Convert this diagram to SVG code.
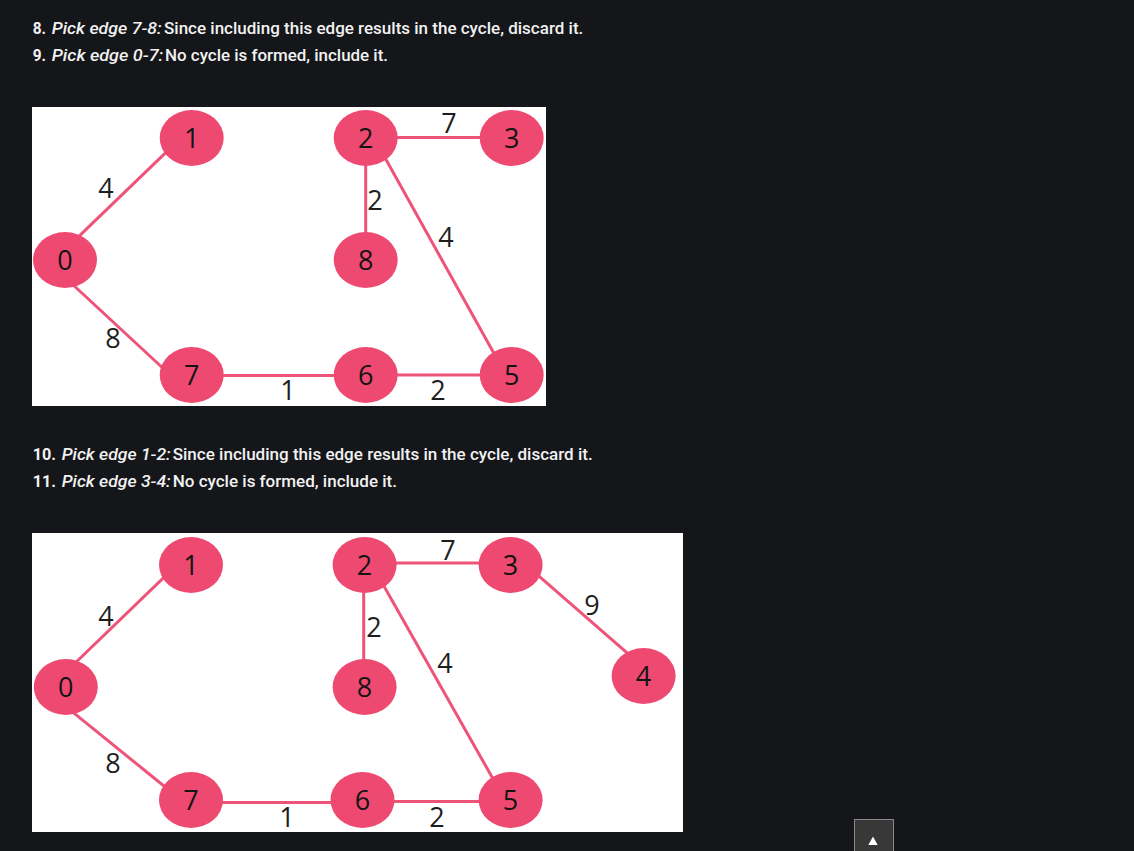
<svg xmlns="http://www.w3.org/2000/svg" width="1134" height="851" viewBox="0 0 1134 851">
<style>
.t{font-family:Roboto,"Liberation Sans",sans-serif;font-size:16px;fill:#f2f2f2;font-weight:500}
.b{font-weight:700}
.i{font-style:italic}
.e{stroke:#ee5479;stroke-width:3;fill:none}
.n{fill:#ee4a71}
.nl{font-family:"Open Sans","Liberation Sans",sans-serif;font-size:27px;fill:#141414;text-anchor:middle}
.el{font-family:"Open Sans","Liberation Sans",sans-serif;font-size:27px;fill:#1e1e1e;text-anchor:middle}
</style>
<rect width="1134" height="851" fill="#15161a"/>
<g id="text-top">
<text class="t b" x="32.7" y="34" textLength="13.3" lengthAdjust="spacingAndGlyphs">8.</text>
<text class="t i" x="51.7" y="34" textLength="110" lengthAdjust="spacingAndGlyphs">Pick edge 7-8:</text>
<text class="t" x="164" y="34" textLength="419.3" lengthAdjust="spacingAndGlyphs">Since including this edge results in the cycle, discard it.</text>
<text class="t b" x="32.7" y="61" textLength="13.3" lengthAdjust="spacingAndGlyphs">9.</text>
<text class="t i" x="51.7" y="61" textLength="111.6" lengthAdjust="spacingAndGlyphs">Pick edge 0-7:</text>
<text class="t" x="165" y="61" textLength="223" lengthAdjust="spacingAndGlyphs">No cycle is formed, include it.</text>
</g>
<g id="diagram1">
<rect x="32" y="107" width="514" height="299" fill="#ffffff"/>
<g id="d1-edges">
<line class="e" x1="70" y1="244.8" x2="180" y2="138.9"/>
<line class="e" x1="70" y1="282" x2="180" y2="384"/>
<line class="e" x1="365.7" y1="137.5" x2="511.7" y2="137.5"/>
<line class="e" x1="365.7" y1="138" x2="365.7" y2="260"/>
<line class="e" x1="374" y1="138" x2="506" y2="375"/>
<line class="e" x1="191.7" y1="375.5" x2="365.7" y2="375.5"/>
<line class="e" x1="365.7" y1="375" x2="511.7" y2="375"/>
</g>
<g id="d1-n0"><ellipse class="n" cx="65" cy="260" rx="32" ry="28"/><text class="nl" x="65" y="270">0</text></g>
<g id="d1-n1"><ellipse class="n" cx="191.7" cy="138" rx="32" ry="28"/><text class="nl" x="191.7" y="148">1</text></g>
<g id="d1-n2"><ellipse class="n" cx="365.7" cy="138" rx="32" ry="28"/><text class="nl" x="365.7" y="148">2</text></g>
<g id="d1-n3"><ellipse class="n" cx="511.7" cy="138" rx="32" ry="28"/><text class="nl" x="511.7" y="148">3</text></g>
<g id="d1-n8"><ellipse class="n" cx="365.7" cy="260" rx="32" ry="28"/><text class="nl" x="365.7" y="270">8</text></g>
<g id="d1-n7"><ellipse class="n" cx="191.7" cy="375" rx="32" ry="28"/><text class="nl" x="191.7" y="385">7</text></g>
<g id="d1-n6"><ellipse class="n" cx="365.7" cy="375" rx="32" ry="28"/><text class="nl" x="365.7" y="385">6</text></g>
<g id="d1-n5"><ellipse class="n" cx="511.7" cy="375" rx="32" ry="28"/><text class="nl" x="511.7" y="385">5</text></g>
<g id="d1-labels">
<text class="el" x="106" y="198">4</text>
<text class="el" x="113" y="348">8</text>
<text class="el" x="449" y="133">7</text>
<text class="el" x="375" y="210">2</text>
<text class="el" x="446" y="247">4</text>
<text class="el" x="288" y="400">1</text>
<text class="el" x="438" y="400">2</text>
</g>
</g>
<g id="text-mid">
<text class="t b" x="32.7" y="460" textLength="23.3" lengthAdjust="spacingAndGlyphs">10.</text>
<text class="t i" x="61.7" y="460" textLength="109" lengthAdjust="spacingAndGlyphs">Pick edge 1-2:</text>
<text class="t" x="172.7" y="460" textLength="420" lengthAdjust="spacingAndGlyphs">Since including this edge results in the cycle, discard it.</text>
<text class="t b" x="32.7" y="487" textLength="23.3" lengthAdjust="spacingAndGlyphs">11.</text>
<text class="t i" x="61.7" y="487" textLength="109" lengthAdjust="spacingAndGlyphs">Pick edge 3-4:</text>
<text class="t" x="172.7" y="487" textLength="224.3" lengthAdjust="spacingAndGlyphs">No cycle is formed, include it.</text>
</g>
<g id="diagram2">
<rect x="32" y="533" width="651" height="299" fill="#ffffff"/>
<g id="d2-edges">
<line class="e" x1="70" y1="668" x2="180" y2="561.8"/>
<line class="e" x1="70" y1="709.9" x2="180" y2="799"/>
<line class="e" x1="364.6" y1="563" x2="510.6" y2="563"/>
<line class="e" x1="520" y1="559.7" x2="640" y2="664.1"/>
<line class="e" x1="363.7" y1="565" x2="363.7" y2="687"/>
<line class="e" x1="372" y1="565" x2="505" y2="800"/>
<line class="e" x1="191" y1="802.5" x2="362.5" y2="802.5"/>
<line class="e" x1="362.5" y1="801.5" x2="510.6" y2="801.5"/>
</g>
<g id="d2-n0"><ellipse class="n" cx="65.8" cy="687" rx="32" ry="28"/><text class="nl" x="65.8" y="697">0</text></g>
<g id="d2-n1"><ellipse class="n" cx="191" cy="565" rx="32" ry="28"/><text class="nl" x="191" y="575">1</text></g>
<g id="d2-n2"><ellipse class="n" cx="364.6" cy="565" rx="32" ry="28"/><text class="nl" x="364.6" y="575">2</text></g>
<g id="d2-n3"><ellipse class="n" cx="510.6" cy="565" rx="32" ry="28"/><text class="nl" x="510.6" y="575">3</text></g>
<g id="d2-n8"><ellipse class="n" cx="364.6" cy="687" rx="32" ry="28"/><text class="nl" x="364.6" y="697">8</text></g>
<g id="d2-n4"><ellipse class="n" cx="643.6" cy="676" rx="32" ry="28"/><text class="nl" x="643.6" y="686">4</text></g>
<g id="d2-n7"><ellipse class="n" cx="191" cy="800" rx="32" ry="28"/><text class="nl" x="191" y="810">7</text></g>
<g id="d2-n6"><ellipse class="n" cx="362.5" cy="800" rx="32" ry="28"/><text class="nl" x="362.5" y="810">6</text></g>
<g id="d2-n5"><ellipse class="n" cx="510.6" cy="800" rx="32" ry="28"/><text class="nl" x="510.6" y="810">5</text></g>
<g id="d2-labels">
<text class="el" x="106" y="626">4</text>
<text class="el" x="113" y="773">8</text>
<text class="el" x="448" y="560">7</text>
<text class="el" x="374" y="637">2</text>
<text class="el" x="445" y="673">4</text>
<text class="el" x="592" y="615">9</text>
<text class="el" x="287" y="827">1</text>
<text class="el" x="437" y="827">2</text>
</g>
</g>
<g id="scroll-top">
<rect x="854.5" y="819.5" width="39" height="40" fill="#383838" stroke="#8a8a8a" stroke-width="1"/>
<polygon points="873,836.5 868.3,845 877.7,845" fill="#ffffff"/>
</g>
</svg>
